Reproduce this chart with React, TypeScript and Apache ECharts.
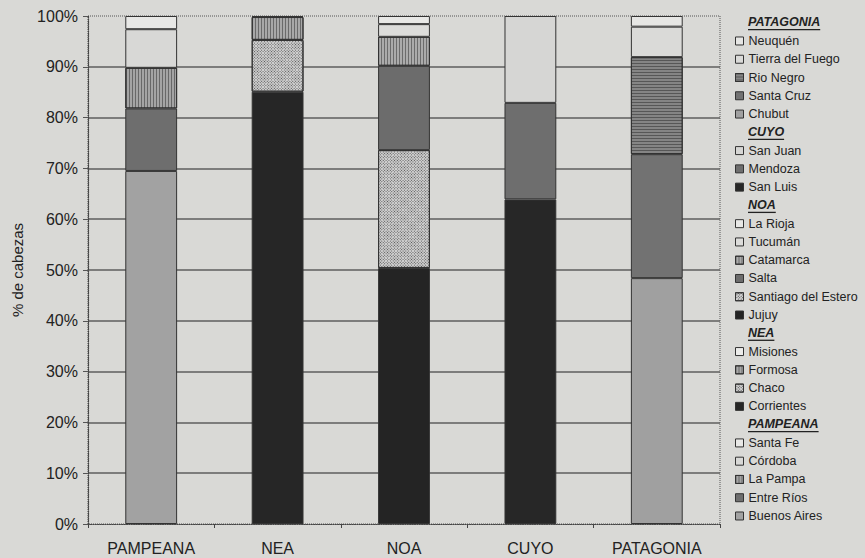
import React, { useEffect, useRef } from "react";
import * as echarts from "echarts";

const categories = ["PAMPEANA", "NEA", "NOA", "CUYO", "PATAGONIA"];
const yTicks = [0, 10, 20, 30, 40, 50, 60, 70, 80, 90, 100];

// provinces listed bottom-to-top in each bar
const pampeanaNames = ["Buenos Aires", "Entre Ríos", "La Pampa", "Córdoba", "Santa Fe"];
const pampeanaValues = [69.5, 12.3, 8.0, 7.6, 2.6];

const neaNames = ["Corrientes", "Chaco", "Formosa", "Misiones"];
const neaValues = [85.1, 10.2, 4.5, 0.2];

const noaNames = ["Jujuy", "Santiago del Estero", "Salta", "Catamarca", "Tucumán", "La Rioja"];
const noaValues = [50.4, 23.2, 16.6, 5.7, 2.5, 1.6];

const cuyoNames = ["San Luis", "Mendoza", "San Juan"];
const cuyoValues = [63.9, 19.0, 17.1];

const patagoniaNames = ["Chubut", "Santa Cruz", "Rio Negro", "Tierra del Fuego", "Neuquén"];
const patagoniaValues = [48.4, 24.4, 19.1, 6.0, 2.1];

const FONT = '"Liberation Sans", Arial, Helvetica, sans-serif';
const BG = "#d9d9d6";
const INK = "#222222";

const vStripes = { symbol: "rect", symbolSize: 1, dashArrayX: [1, 2], dashArrayY: [4, 0], color: "rgba(30,30,30,0.45)", rotation: 0 };
const hStripes = { symbol: "rect", symbolSize: 1, dashArrayX: [4, 0], dashArrayY: [1, 2], color: "rgba(30,30,30,0.45)", rotation: 0 };
const checker = { symbol: "rect", symbolSize: 1, dashArrayX: [1, 1], dashArrayY: [1, 1], color: "rgba(40,40,40,0.75)", rotation: Math.PI / 4 };

const styles: Record<string, { color: string; decal?: any }> = {
  "Buenos Aires": { color: "#a2a2a2" },
  "Entre Ríos": { color: "#6e6e6e" },
  "La Pampa": { color: "#a4a4a4", decal: vStripes },
  "Córdoba": { color: "#d8d8d6" },
  "Santa Fe": { color: "#e8e8e6" },
  "Corrientes": { color: "#262626" },
  "Chaco": { color: "#d2d2d2", decal: checker },
  "Formosa": { color: "#a8a8a8", decal: vStripes },
  "Misiones": { color: "#ececea" },
  "Jujuy": { color: "#242424" },
  "Santiago del Estero": { color: "#d2d2d2", decal: checker },
  "Salta": { color: "#6c6c6c" },
  "Catamarca": { color: "#ababab", decal: vStripes },
  "Tucumán": { color: "#dcdcda" },
  "La Rioja": { color: "#e8e8e6" },
  "San Luis": { color: "#272727" },
  "Mendoza": { color: "#6e6e6e" },
  "San Juan": { color: "#d6d6d4" },
  "Chubut": { color: "#a0a0a0" },
  "Santa Cruz": { color: "#727272" },
  "Rio Negro": { color: "#858585", decal: hStripes },
  "Tierra del Fuego": { color: "#dadad8" },
  "Neuquén": { color: "#e6e6e4" },
};

const regions = [
  { names: pampeanaNames, values: pampeanaValues },
  { names: neaNames, values: neaValues },
  { names: noaNames, values: noaValues },
  { names: cuyoNames, values: cuyoValues },
  { names: patagoniaNames, values: patagoniaValues },
];

const legendGroups = [
  { title: "PATAGONIA", items: [...patagoniaNames].reverse() },
  { title: "CUYO", items: [...cuyoNames].reverse() },
  { title: "NOA", items: [...noaNames].reverse() },
  { title: "NEA", items: [...neaNames].reverse() },
  { title: "PAMPEANA", items: [...pampeanaNames].reverse() },
];

export default function App() {
  const ref = useRef<HTMLDivElement>(null);
  useEffect(() => {
    if (!ref.current) return;
    const chart = echarts.init(ref.current, undefined, { renderer: "svg" });

    const series: any[] = [];
    regions.forEach((reg, ri) => {
      reg.names.forEach((name, pi) => {
        const st = styles[name];
        series.push({
          name,
          type: "bar",
          stack: "total",
          barWidth: "41%",
          data: categories.map((_, ci) => (ci === ri ? reg.values[pi] : "-")),
          itemStyle: { color: st.color, borderColor: "#333", borderWidth: 1, decal: st.decal },
        });
      });
    });

    const ROW0 = 22.7;
    const PITCH = 18.27;
    const LEG_LEFT = 735;
    const HEAD_X = 748;
    const legends: any[] = [];
    const graphics: any[] = [];
    const canvas = document.createElement("canvas");
    const ctx = canvas.getContext("2d")!;
    ctx.font = `italic bold 12.5px ${FONT}`;
    let row = 0;
    legendGroups.forEach((g) => {
      const cy = ROW0 + PITCH * row;
      const w = ctx.measureText(g.title).width;
      graphics.push({
        type: "text",
        left: HEAD_X,
        top: cy - 7,
        style: { text: g.title, font: `italic bold 12.5px ${FONT}`, fill: INK },
      });
      graphics.push({
        type: "line",
        shape: { x1: HEAD_X, y1: cy + 7, x2: HEAD_X + w, y2: cy + 7 },
        style: { stroke: INK, lineWidth: 1.3 },
      });
      row += 1;
      legends.push({
        orient: "vertical",
        left: LEG_LEFT,
        top: ROW0 + PITCH * row - PITCH / 2,
        padding: 0,
        itemGap: 0,
        itemWidth: 8,
        itemHeight: 8,
        icon: "rect",
        selectedMode: false,
        data: g.items,
        itemStyle: { borderColor: "#333", borderWidth: 1 },
        textStyle: { fontFamily: FONT, fontSize: 12.5, color: INK, lineHeight: PITCH, padding: [0, 0, 0, 0] },
      });
      row += g.items.length;
    });

    chart.setOption({
      animation: false,
      backgroundColor: BG,
      grid: {
        left: 88,
        right: 145,
        top: 16,
        bottom: 34,
        show: true,
        backgroundColor: "transparent",
        borderColor: "#555",
        borderWidth: 1,
        borderType: "dotted",
      },
      legend: legends,
      graphic: graphics,
      xAxis: {
        type: "category",
        data: categories,
        axisLine: { show: true, lineStyle: { color: "#444", type: "dotted", width: 1.2 } },
        axisTick: { show: true, length: 4, lineStyle: { color: "#444" } },
        axisLabel: { fontFamily: FONT, fontSize: 16, color: INK, margin: 16 },
      },
      yAxis: {
        type: "value",
        min: yTicks[0],
        max: yTicks[yTicks.length - 1],
        interval: 10,
        name: "% de cabezas",
        nameLocation: "middle",
        nameGap: 63,
        nameTextStyle: { fontFamily: FONT, fontSize: 15, color: INK },
        axisLine: { show: true, lineStyle: { color: "#444", type: "dotted", width: 1.2 } },
        axisTick: { show: true, length: 5, lineStyle: { color: "#555" } },
        axisLabel: { fontFamily: FONT, fontSize: 16, color: INK, margin: 10, formatter: "{value}%" },
        splitLine: {
          show: true,
          lineStyle: {
            width: 1.5,
            color: yTicks.map((v, i) => (i === 0 || i === yTicks.length - 1 ? "rgba(0,0,0,0)" : "#5e5e5e")),
          },
        },
      },
      series,
    });
    return () => chart.dispose();
  }, []);
  return <div ref={ref} style={{ position: "absolute", left: 0, top: 0, width: 865, height: 558 }} />;
}
